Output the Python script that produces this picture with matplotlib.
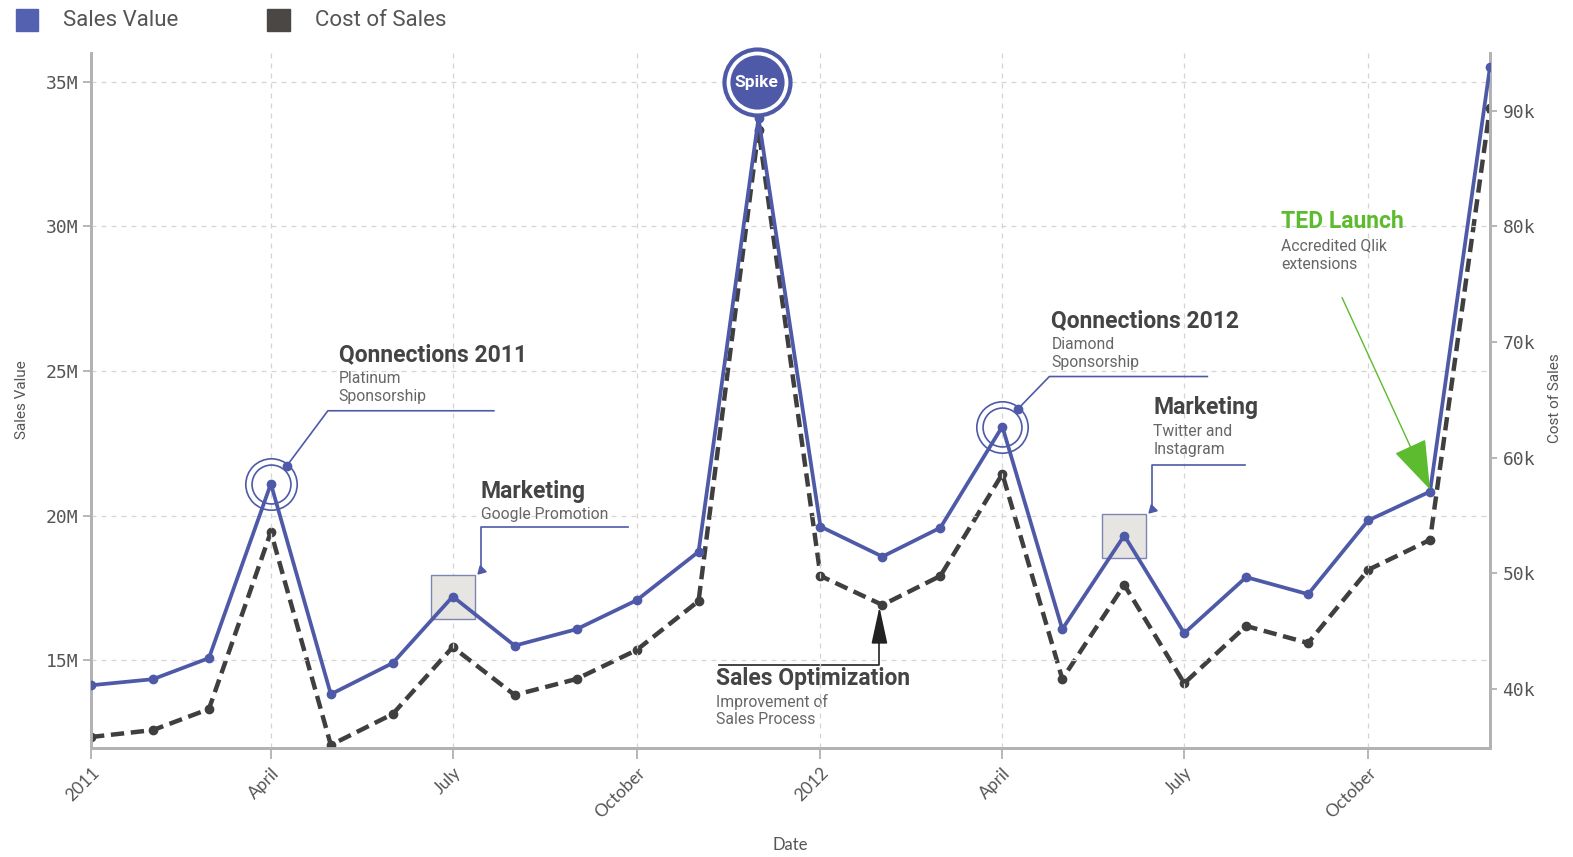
import numpy as np
import pandas as pd
import matplotlib
matplotlib.use('Agg')
import matplotlib.pyplot as plt
import matplotlib.dates as mdates
from matplotlib.lines import Line2D
from matplotlib.patches import Rectangle, FancyArrowPatch
from matplotlib.transforms import IdentityTransform, offset_copy

# Données (ventes en millions, coût en milliers)
months = pd.date_range('2011-01-01', periods=24, freq='MS').to_pydatetime()
sales_value = [14.13, 14.34, 15.07, 21.10, 13.82, 14.90, 17.20, 15.50, 16.07, 17.07, 18.75, 33.75,
               19.62, 18.58, 19.58, 23.08, 16.07, 19.31, 15.93, 17.87, 17.28, 19.83, 20.83, 35.52]
cost_of_sales = [35.85, 36.45, 38.27, 53.58, 35.16, 37.84, 43.63, 39.48, 40.87, 43.37, 47.61, 88.36,
                 49.78, 47.27, 49.78, 58.60, 40.87, 49.00, 40.50, 45.45, 43.98, 50.30, 52.90, 90.26]
tick_months = [0, 3, 6, 9, 12, 15, 18, 21]
tick_labels = ['2011', 'April', 'July', 'October', '2012', 'April', 'July', 'October']
left_ticks = [15, 20, 25, 30, 35]
right_ticks = [40, 50, 60, 70, 80, 90]

# Événements annotés (index du mois)
circle_events = [3, 15]
circle_titles = ['Qonnections 2011', 'Qonnections 2012']
circle_subs = [['Platinum', 'Sponsorship'], ['Diamond', 'Sponsorship']]
box_events = [6, 17]
box_titles = ['Marketing', 'Marketing']
box_subs = [['Google Promotion'], ['Twitter and', 'Instagram']]
spike_event = 11
optim_event = 13
ted_event = 22

BLUE = '#4e5aa8'
DARK = '#3f3f3f'
GREEN = '#5dbb2f'
TXT = '#444444'
SUB = '#666666'

W, H = 1573, 857
fig = plt.figure(figsize=(W / 100, H / 100), dpi=100)
ax = fig.add_axes([91 / W, 109 / H, (1490 - 91) / W, (748 - 53) / H])
ax2 = ax.twinx()

ax.set_xlim(months[0], months[-1])
ax.set_ylim(11.96, 36.0)
ax2.set_ylim(34.9, 95.0)

# grille
ax.set_xticks([months[i] for i in tick_months])
ax.set_xticklabels(tick_labels, rotation=45, ha='right', va='top', rotation_mode='anchor',
                   fontsize=12.5, color='#555555', family='Lato')
ax.set_yticks(left_ticks)
ax.set_yticklabels([f'{v}M' for v in left_ticks], family='DejaVu Sans Mono', fontsize=13, color='#555555')
ax2.set_yticks(right_ticks)
ax2.set_yticklabels([f'{v}k' for v in right_ticks], family='DejaVu Sans Mono', fontsize=13, color='#555555')
ax.grid(True, color='#d5d5d5', linestyle=(0, (4, 4)), linewidth=0.9)
ax.tick_params(axis='y', length=6, width=1.2, color='#aaaaaa', pad=3)
ax.tick_params(axis='x', length=8, width=1.2, color='#aaaaaa', pad=4)
ax2.tick_params(axis='y', length=5, width=1.2, color='#aaaaaa', pad=4)

for a in (ax, ax2):
    a.spines['top'].set_visible(False)
    for s in ('left', 'right', 'bottom'):
        a.spines[s].set_color('#b3b3b3')
        a.spines[s].set_linewidth(2)

# séries
ax2.plot(months, cost_of_sales, color=DARK, lw=3.2, dashes=(3, 1.5), marker='o', ms=6, zorder=3)
ax.plot(months, sales_value, color=BLUE, lw=2.7, marker='o', ms=6, zorder=4)
ax.set_zorder(ax2.get_zorder() + 1)
ax.patch.set_visible(False)


def pix(a, i, v):
    return a.transData.transform((mdates.date2num(months[i]), v))


def leader(a, i, v, pts, color=BLUE, lw=1.2):
    x0, y0 = pix(a, i, v)
    a.add_line(Line2D([x0 + p[0] for p in pts], [y0 + p[1] for p in pts], color=color, lw=lw,
                      transform=IdentityTransform(), clip_on=False, zorder=6))


def label(a, i, v, dx, dy, title, subs, color=TXT, sub_color=SUB, gaps=(24, 18)):
    a.annotate(title, xy=(months[i], v), xytext=(dx, dy), textcoords='offset pixels',
               ha='left', va='center', fontsize=16.5, fontweight='bold', color=color,
               family='Roboto', annotation_clip=False, zorder=7)
    y = dy - gaps[0]
    for s in subs:
        a.annotate(s, xy=(months[i], v), xytext=(dx, y), textcoords='offset pixels',
                   ha='left', va='center', fontsize=11.3, color=sub_color, family='Roboto',
                   annotation_clip=False, zorder=7)
        y -= gaps[1]


# Qonnections : double cercle
for k, i in enumerate(circle_events):
    v = sales_value[i]
    ax.plot(months[i], v, marker='o', ms=37, mfc='none', mec=BLUE, mew=1.2, zorder=5)
    ax.plot(months[i], v, marker='o', ms=28, mfc='none', mec=BLUE, mew=1.2, zorder=5)
    dot = offset_copy(ax.transData, fig=fig, x=16, y=18, units='dots')
    ax.plot(months[i], v, marker='o', ms=6, color=BLUE, transform=dot, zorder=6, clip_on=False)
    if k == 0:
        leader(ax, i, v, [(16, 18), (57, 73), (223, 73)])
        label(ax, i, v, 68, 129, circle_titles[k], circle_subs[k])
    else:
        leader(ax, i, v, [(16, 18), (47, 50), (205, 50)])
        label(ax, i, v, 49, 106, circle_titles[k], circle_subs[k])

# Marketing : carré gris
for k, i in enumerate(box_events):
    v = sales_value[i]
    ax.plot(months[i], v, marker='s', ms=31, mfc='#e7e5e1', mec='#7e84b4', mew=1.0, zorder=2)
    tri = offset_copy(ax.transData, fig=fig, x=28, y=27, units='dots')
    ax.plot(months[i], v, marker=(3, 0, 135), ms=7, color=BLUE, transform=tri, zorder=6, clip_on=False)
    if k == 0:
        leader(ax, i, v, [(28, 27), (28, 70), (175, 70)])
        label(ax, i, v, 28, 105, box_titles[k], box_subs[k], gaps=(23, 18))
    else:
        leader(ax, i, v, [(28, 28), (28, 71), (121, 71)])
        label(ax, i, v, 29, 128, box_titles[k], box_subs[k])

# Spike
sp = offset_copy(ax.transData, fig=fig, x=-2, y=36, units='dots')
ax.plot(months[spike_event], sales_value[spike_event], marker='o', ms=47.5, mfc='white', mec=BLUE,
        mew=3, transform=sp, zorder=8, clip_on=False)
ax.plot(months[spike_event], sales_value[spike_event], marker='o', ms=39, mfc=BLUE, mec=BLUE,
        mew=0, transform=sp, zorder=9, clip_on=False)
ax.annotate('Spike', xy=(months[spike_event], sales_value[spike_event]), xytext=(-2, 36),
            textcoords='offset pixels', ha='center', va='center', color='white', fontsize=12.5,
            fontweight='bold', family='Roboto', zorder=10, annotation_clip=False)

# Sales Optimization (sur la courbe des coûts)
v = cost_of_sales[optim_event]
x0, y0 = pix(ax2, optim_event, v)
leader(ax2, optim_event, v, [(-163, -60), (-3, -60), (-3, -30)], color='#222222', lw=1.2)
ax2.add_patch(FancyArrowPatch((x0 - 3, y0 - 33), (x0 - 3, y0 - 2), transform=IdentityTransform(),
                              arrowstyle='-|>,head_length=2.3,head_width=0.5', mutation_scale=10,
                              color='#222222', lw=1.2, shrinkA=0, shrinkB=0, zorder=7, clip_on=False))
label(ax2, optim_event, v, -166, -74, 'Sales Optimization', ['Improvement of', 'Sales Process'], gaps=(23, 18))

# TED Launch
v = sales_value[ted_event]
x0, y0 = pix(ax, ted_event, v)
ax.add_patch(FancyArrowPatch((x0 - 88, y0 + 194), (x0, y0 + 2), transform=IdentityTransform(),
                             arrowstyle='-|>,head_length=3.2,head_width=1.1', mutation_scale=10,
                             color=GREEN, lw=1.0, shrinkA=0, shrinkB=0, zorder=7, clip_on=False))
label(ax, ted_event, v, -149, 270, 'TED Launch', ['Accredited Qlik', 'extensions'],
      color=GREEN, sub_color=SUB, gaps=(24, 19))

# légende
fig.add_artist(Rectangle((16 / W, 1 - 31 / H), 22 / W, 22 / H, transform=fig.transFigure, color='#5460b0'))
fig.text(63 / W, 1 - 21 / H, 'Sales Value', va='center', fontsize=16, color='#555555', family='Roboto')
fig.add_artist(Rectangle((267 / W, 1 - 31 / H), 23 / W, 22 / H, transform=fig.transFigure, color='#4a4744'))
fig.text(315 / W, 1 - 21 / H, 'Cost of Sales', va='center', fontsize=16, color='#555555', family='Roboto')

# titres des axes
fig.text(22 / W, 1 - 400 / H, 'Sales Value', rotation=90, ha='center', va='center', fontsize=11,
         color='#555555', family='Roboto')
fig.text(1555 / W, 1 - 398 / H, 'Cost of Sales', rotation=90, ha='center', va='center', fontsize=11,
         color='#555555', family='Roboto')
fig.text(790 / W, 1 - 845 / H, 'Date', ha='center', va='center', fontsize=12, color='#555555', family='Lato')

fig.savefig('out.png', dpi=100)
